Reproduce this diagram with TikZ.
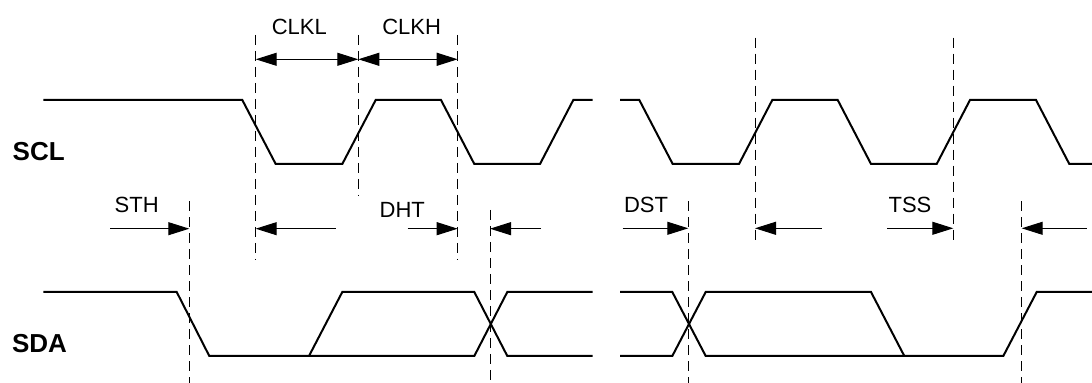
\documentclass[tikz,border=0pt]{standalone}
\usepackage{fontspec}
\setmainfont{Liberation Sans}
\usetikzlibrary{arrows.meta}
\begin{document}
\begin{tikzpicture}[x=0.5pt, y=-0.5pt]

    % Styles
    \tikzstyle{signal} = [line width=1pt, line join=miter]
    \tikzstyle{guide} = [line width=0.5pt, dash pattern=on 5pt off 3pt]
    \tikzstyle{arrow} = [line width=0.5pt, -{Triangle[length=10.5pt, width=6.5pt]}]
    \tikzstyle{span} = [line width=0.5pt, {Triangle[length=10.5pt, width=6.5pt]}-{Triangle[length=10.5pt, width=6.5pt]}]
    \tikzset{signame/.style={font=\fontsize{13}{15}\selectfont\bfseries, inner sep=0pt}}
    \tikzset{tag/.style={font=\fontsize{11}{13}\selectfont, inner sep=0pt}}

    \useasboundingbox (0,0) rectangle (1092,383);

    % Noeuds
    \node (scl) [signame] at (38.7,152) {SCL};
    \node (sda) [signame] at (39.5,344) {SDA};
    \node (clkl) [tag] at (299.3,26.5) {CLKL};
    \node (clkh) [tag] at (411.7,26.5) {CLKH};
    \node (sth) [tag] at (136.7,205) {STH};
    \node (dht) [tag] at (402.3,210) {DHT};
    \node (dst) [tag] at (646,205) {DST};
    \node (tss) [tag] at (910,205) {TSS};

    % Lignes de repere
    \draw [guide] (255.7,35) -- (255.7,260);
    \draw [guide] (358.3,35) -- (358.3,196);
    \draw [guide] (457.7,35) -- (457.7,260);
    \draw [guide] (755,37.7) -- (755,243.3);
    \draw [guide] (953.3,37.7) -- (953.3,243.3);
    \draw [guide] (189.3,201.5) -- (189.3,383);
    \draw [guide] (490,210) -- (490,383);
    \draw [guide] (688.3,201.5) -- (688.3,383);
    \draw [guide] (1021.7,201.5) -- (1021.7,383);

    % SCL
    \draw [signal] (43.3,100) -- (242.3,100) -- (275.7,164) -- (342.3,164) -- (375.7,100) -- (441,100)
        -- (474.3,164) -- (540,164) -- (573.3,100) -- (592.7,100);
    \draw [signal] (620,100) -- (639.3,100) -- (672.7,164) -- (739,164) -- (772.3,100) -- (837.7,100)
        -- (871,164) -- (936.7,164) -- (970,100) -- (1036,100) -- (1069.3,164) -- (1092,164);

    % SDA
    \draw [signal] (43.3,292) -- (176.7,292) -- (209.3,356) -- (474.3,356) -- (507.3,292) -- (592.7,292);
    \draw [signal] (309,356) -- (342.3,292) -- (474.3,292) -- (507.3,356) -- (592.7,356);
    \draw [signal] (620,292) -- (672.3,292) -- (705.7,356) -- (1003.3,356) -- (1036.7,292) -- (1092,292);
    \draw [signal] (620,356) -- (672.3,356) -- (705.7,292) -- (871,292) -- (904.3,356);

    % Points des fleches
    \coordinate (l1) at (255.7,59.3);
    \coordinate (l2) at (358.3,59.3);
    \coordinate (l3) at (457.7,59.3);
    \coordinate (sthA) at (110,228.7);
    \coordinate (sthB) at (189.3,228.7);
    \coordinate (lowA) at (335.7,228.7);
    \coordinate (lowB) at (255.7,228.7);
    \coordinate (dhtA) at (407.7,228.7);
    \coordinate (dhtB) at (457.7,228.7);
    \coordinate (crA) at (541,228.7);
    \coordinate (crB) at (490,228.7);
    \coordinate (dstA) at (622.7,228.3);
    \coordinate (dstB) at (688.3,228.3);
    \coordinate (upA) at (821.7,228.3);
    \coordinate (upB) at (755,228.3);
    \coordinate (tssA) at (887.3,228.3);
    \coordinate (tssB) at (953.3,228.3);
    \coordinate (endA) at (1086.7,228.3);
    \coordinate (endB) at (1021.7,228.3);

    % Fleches
    \draw [span] (l1) -- (l2);
    \draw [span] (l2) -- (l3);
    \draw [arrow] (sthA) -- (sthB);
    \draw [arrow] (lowA) -- (lowB);
    \draw [arrow] (dhtA) -- (dhtB);
    \draw [arrow] (crA) -- (crB);
    \draw [arrow] (dstA) -- (dstB);
    \draw [arrow] (upA) -- (upB);
    \draw [arrow] (tssA) -- (tssB);
    \draw [arrow] (endA) -- (endB);

\end{tikzpicture}
\end{document}
